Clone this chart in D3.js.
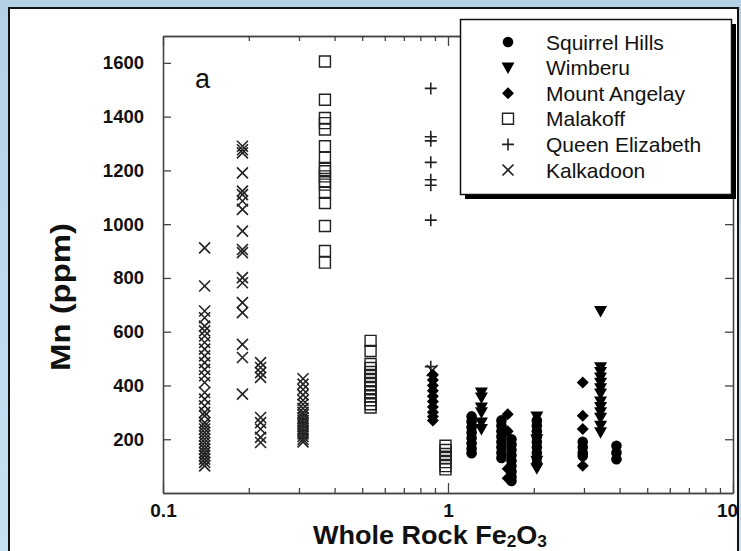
<!DOCTYPE html>
<html>
<head>
<meta charset="utf-8">
<script src="https://cdn.jsdelivr.net/npm/d3@7/dist/d3.min.js"></script>
<style>
  html, body { margin: 0; padding: 0; background: #bcd7ea; }
  svg { display: block; }
  text { font-family: "Liberation Sans", Arial, Helvetica, sans-serif; }
</style>
</head>
<body>
<svg id="chart" width="741" height="551"></svg>
<script>
// ---------------- data ----------------
const xTickMajor = [0.1, 1, 10];
const xTickLabels = ["0.1", "1", "10"];
const xTickMinor = [0.2, 0.3, 0.4, 0.5, 0.6, 0.7, 0.8, 0.9, 2, 3, 4, 5, 6, 7, 8, 9];
const yTicks = [200, 400, 600, 800, 1000, 1200, 1400, 1600];

const seriesNames = ["Squirrel Hills", "Wimberu", "Mount Angelay", "Malakoff", "Queen Elizabeth", "Kalkadoon"];
const seriesSymbols = ["circle", "triangle", "diamond", "square", "plus", "times"];

// each entry: [Fe2O3 (wt%), list of Mn (ppm) values]
const squirrelHills = [
  [1.21, [285, 265, 245, 225, 205, 185, 165, 148]],
  [1.54, [270, 250, 230, 210, 190, 170, 150, 130]],
  [1.67, [200, 180, 160, 140, 120, 100, 80, 60, 45]],
  [2.05, [270, 250, 230, 210, 190, 170, 150, 130, 110]],
  [2.97, [190, 170, 150, 138]],
  [3.9, [176, 150, 126]]
];
const wimberu = [
  [1.31, [374, 355, 318, 300, 262, 238]],
  [2.05, [285, 200, 120, 92]],
  [3.43, [677, 468, 450, 430, 410, 390, 370, 340, 320, 300, 280, 250, 226]]
];
const mountAngelay = [
  [0.885, [440, 420, 400, 380, 360, 340, 320, 300, 285, 270]],
  [1.62, [293, 230, 90, 55]],
  [2.97, [411, 287, 238, 101]]
];
const malakoff = [
  [0.37, [1605, 1463, 1395, 1376, 1352, 1290, 1247, 1209, 1197, 1178, 1160, 1147, 1117, 1079, 993, 900, 857]],
  [0.535, [566, 528, 480, 465, 450, 435, 420, 405, 390, 375, 360, 345, 330, 318]],
  [0.98, [176, 160, 145, 130, 115, 100, 88]]
];
const queenElizabeth = [
  [0.87, [1505, 1325, 1310, 1230, 1165, 1145, 1015, 470]]
];
const kalkadoon = [
  [0.14, [912, 770, 677, 652, 621, 603, 584, 560, 535, 510, 485, 460, 436, 411, 374, 349, 324, 300, 287, 262, 250, 238, 225, 213, 200, 188, 175, 163, 150, 139, 126, 114, 101]],
  [0.19, [1290, 1277, 1265, 1191, 1123, 1110, 1086, 1055, 974, 906, 894, 801, 782, 708, 671, 553, 504, 368]],
  [0.22, [485, 467, 448, 430, 281, 262, 238, 207, 188]],
  [0.31, [425, 405, 385, 365, 345, 330, 315, 300, 290, 280, 270, 260, 250, 240, 230, 220, 210, 200, 190]],
  [0.88, [455]]
];
const seriesData = [squirrelHills, wimberu, mountAngelay, malakoff, queenElizabeth, kalkadoon];

// ---------------- drawing ----------------
const svg = d3.select("#chart");
const W = 741, H = 551;

const defs = svg.append("defs");
const grad = defs.append("linearGradient").attr("id", "bg").attr("x1", 0).attr("y1", 0).attr("x2", 0).attr("y2", 1);
grad.append("stop").attr("offset", "0%").attr("stop-color", "#b4d0e4");
grad.append("stop").attr("offset", "100%").attr("stop-color", "#c6e1f2");
svg.append("rect").attr("width", W).attr("height", H).attr("fill", "url(#bg)");

// white panel
svg.append("rect").attr("x", 9).attr("y", 8).attr("width", 729).attr("height", 560)
  .attr("fill", "#fff").attr("stroke", "#111").attr("stroke-width", 2);

const x = d3.scaleLog().domain([0.1, 10]).range([163, 733]);
const y = d3.scaleLinear().domain([0, 1700]).range([493, 36]);

const axisColor = "#444";
function styleAxis(g) {
  g.selectAll(".domain").attr("stroke", axisColor).attr("stroke-width", 1.6);
  g.selectAll(".tick line").attr("stroke", axisColor).attr("stroke-width", 1.3);
}

// left axis
svg.append("g").attr("transform", `translate(163,0)`)
  .call(d3.axisLeft(y).tickValues(yTicks).tickSize(-8).tickSizeOuter(0).tickPadding(19).tickFormat(d3.format("d")))
  .call(styleAxis)
  .call(g => g.selectAll("text").attr("font-size", 18.5).attr("font-weight", "bold").attr("fill", "#111"));
// right axis
svg.append("g").attr("transform", `translate(733,0)`)
  .call(d3.axisRight(y).tickValues(yTicks).tickSize(-8).tickSizeOuter(0).tickFormat(""))
  .call(styleAxis);
// bottom axis major
svg.append("g").attr("transform", `translate(0,493)`)
  .call(d3.axisBottom(x).tickValues(xTickMajor).tickSize(-10).tickSizeOuter(0).tickPadding(11)
    .tickFormat((d, i) => xTickLabels[i]))
  .call(styleAxis)
  .call(g => g.selectAll("text").attr("font-size", 19).attr("font-weight", "bold").attr("fill", "#111"))
  .call(g => g.selectAll("text").filter(d => d === 10).attr("dx", -6));
svg.append("g").attr("transform", `translate(0,493)`)
  .call(d3.axisBottom(x).tickValues(xTickMinor).tickSize(-5).tickSizeOuter(0).tickFormat(""))
  .call(styleAxis);
// top axis
svg.append("g").attr("transform", `translate(0,36)`)
  .call(d3.axisTop(x).tickValues(xTickMajor).tickSize(-10).tickSizeOuter(0).tickFormat(""))
  .call(styleAxis);
svg.append("g").attr("transform", `translate(0,36)`)
  .call(d3.axisTop(x).tickValues(xTickMinor).tickSize(-5).tickSizeOuter(0).tickFormat(""))
  .call(styleAxis);

// axis titles
const xt = svg.append("text").attr("x", 430).attr("y", 544).attr("text-anchor", "middle")
  .attr("font-size", 25).attr("font-weight", "bold").attr("fill", "#111")
  .attr("textLength", 234).attr("lengthAdjust", "spacingAndGlyphs");
xt.append("tspan").text("Whole Rock Fe");
xt.append("tspan").attr("font-size", 16).attr("dy", 3).text("2");
xt.append("tspan").attr("dy", -3).text("O");
xt.append("tspan").attr("font-size", 16).attr("dy", 3).text("3");

svg.append("text").attr("transform", "translate(70,297) rotate(-90)").attr("text-anchor", "middle")
  .attr("font-size", 27).attr("font-weight", "bold").attr("fill", "#111")
  .attr("textLength", 148).attr("lengthAdjust", "spacingAndGlyphs").text("Mn (ppm)");

svg.append("text").attr("x", 195).attr("y", 88).attr("font-size", 27).attr("fill", "#111").text("a");

// symbol paths
function symbolPath(type) {
  switch (type) {
    case "circle": return "M5.3,0A5.3,5.3 0 1,1 -5.3,0A5.3,5.3 0 1,1 5.3,0Z";
    case "triangle": return "M-6.5,-5L6.5,-5L0,6.5Z";
    case "diamond": return "M0,-6L6,0L0,6L-6,0Z";
    case "square": return "M-5.5,-5.5H5.5V5.5H-5.5Z";
    case "plus": return "M-6,0H6M0,-6V6";
    case "times": return "M-5.5,-5.5L5.5,5.5M5.5,-5.5L-5.5,5.5";
  }
}
function styleSymbol(sel, type) {
  if (type === "circle" || type === "triangle" || type === "diamond") {
    sel.attr("fill", "#000").attr("stroke", "none");
  } else if (type === "square") {
    sel.attr("fill", "none").attr("stroke", "#222").attr("stroke-width", 1.4);
  } else {
    sel.attr("fill", "none").attr("stroke", "#222").attr("stroke-width", 1.6);
  }
}

const plot = svg.append("g");
// draw in reverse so legend-first series are on top
for (let s = seriesData.length - 1; s >= 0; s--) {
  const pts = [];
  seriesData[s].forEach(([fe, mns]) => mns.forEach(mn => pts.push({ fe, mn })));
  const type = seriesSymbols[s];
  plot.append("g").selectAll("path").data(pts).join("path")
    .attr("transform", d => `translate(${x(d.fe)},${y(d.mn)})`)
    .attr("d", symbolPath(type))
    .call(sel => styleSymbol(sel, type));
}

// legend
const lg = svg.append("g");
lg.append("rect").attr("x", 465).attr("y", 24).attr("width", 271).attr("height", 175).attr("fill", "#000");
lg.append("rect").attr("x", 460.5).attr("y", 19.5).attr("width", 271).attr("height", 175)
  .attr("fill", "#fff").attr("stroke", "#111").attr("stroke-width", 1.5);
const rowY = d3.scaleLinear().domain([0, 5]).range([42, 170]);
seriesNames.forEach((name, i) => {
  const type = seriesSymbols[i];
  lg.append("path").attr("transform", `translate(508,${rowY(i)})`).attr("d", symbolPath(type))
    .call(sel => styleSymbol(sel, type));
  lg.append("text").attr("x", 546).attr("y", rowY(i)).attr("dy", "0.36em")
    .attr("font-size", 21).attr("fill", "#111").text(name);
});
</script>
</body>
</html>
